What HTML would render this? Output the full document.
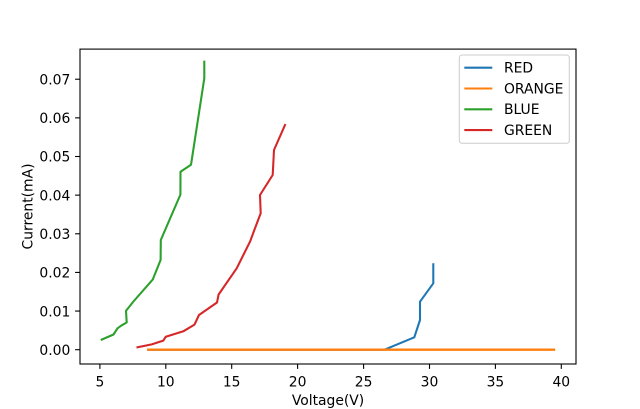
<!DOCTYPE html>
<html>
<head>
<meta charset="utf-8">
<style>
  html, body { margin: 0; padding: 0; background: #ffffff; }
  svg { display: block; }
  text { font-family: "DejaVu Sans", "Liberation Sans", sans-serif; font-size: 13.89px; fill: #000; }
</style>
</head>
<body>
<svg width="640" height="409" viewBox="0 0 640 409" xmlns="http://www.w3.org/2000/svg">
  <rect x="0" y="0" width="640" height="409" fill="#ffffff"/>

  <!-- data series -->
  <g fill="none" stroke-width="2.08" stroke-linejoin="round" stroke-linecap="square">
    <!-- RED (tab:blue) -->
    <polyline stroke="#1f77b4" points="148.3,349.7 384.5,349.7 414.3,337.3 420,320 420,301.7 433.3,283.3 433.3,264.3"/>
    <!-- ORANGE -->
    <polyline stroke="#ff7f0e" stroke-width="2.4" points="148.3,349.7 554,349.7"/>
    <!-- BLUE (tab:green) -->
    <polyline stroke="#2ca02c" points="101.7,339.6 113.5,334.5 117.5,328.3 121.7,325.3 126.7,322.5 126,310.9 133,302 152.7,279.6 160.6,260 160.8,240 180.4,194.6 180.5,171.7 191,164.8 204.3,78.3 204.3,61.7"/>
    <!-- GREEN (tab:red) -->
    <polyline stroke="#d62728" points="137.5,347.3 151.7,344.4 163.3,340.6 165.8,336.7 183.3,331.3 194.5,324.6 199,315 217,302.5 218.6,294.5 236.7,268.3 250,241.7 255,228.3 260.7,213.3 260,195 272.7,175 274,150 285,125"/>
  </g>

  <!-- axes frame -->
  <rect x="80" y="49.1" width="496" height="314.9" fill="none" stroke="#000" stroke-width="1.1"/>

  <!-- x ticks -->
  <g stroke="#000" stroke-width="1.1">
    <line x1="99.9" y1="364" x2="99.9" y2="368.9"/>
    <line x1="165.8" y1="364" x2="165.8" y2="368.9"/>
    <line x1="231.7" y1="364" x2="231.7" y2="368.9"/>
    <line x1="297.6" y1="364" x2="297.6" y2="368.9"/>
    <line x1="363.6" y1="364" x2="363.6" y2="368.9"/>
    <line x1="429.5" y1="364" x2="429.5" y2="368.9"/>
    <line x1="495.4" y1="364" x2="495.4" y2="368.9"/>
    <line x1="561.3" y1="364" x2="561.3" y2="368.9"/>
  </g>
  <g text-anchor="middle">
    <text x="99.9" y="386.3">5</text>
    <text x="165.8" y="386.3">10</text>
    <text x="231.7" y="386.3">15</text>
    <text x="297.6" y="386.3">20</text>
    <text x="363.6" y="386.3">25</text>
    <text x="429.5" y="386.3">30</text>
    <text x="495.4" y="386.3">35</text>
    <text x="561.3" y="386.3">40</text>
  </g>
  <text x="328" y="405" text-anchor="middle">Voltage(V)</text>

  <!-- y ticks -->
  <g stroke="#000" stroke-width="1.1">
    <line x1="75.1" y1="349.7" x2="80" y2="349.7"/>
    <line x1="75.1" y1="311.06" x2="80" y2="311.06"/>
    <line x1="75.1" y1="272.42" x2="80" y2="272.42"/>
    <line x1="75.1" y1="233.78" x2="80" y2="233.78"/>
    <line x1="75.1" y1="195.14" x2="80" y2="195.14"/>
    <line x1="75.1" y1="156.5" x2="80" y2="156.5"/>
    <line x1="75.1" y1="117.86" x2="80" y2="117.86"/>
    <line x1="75.1" y1="79.22" x2="80" y2="79.22"/>
  </g>
  <g text-anchor="end">
    <text x="70.3" y="354.9">0.00</text>
    <text x="70.3" y="316.3">0.01</text>
    <text x="70.3" y="277.6">0.02</text>
    <text x="70.3" y="239">0.03</text>
    <text x="70.3" y="200.3">0.04</text>
    <text x="70.3" y="161.7">0.05</text>
    <text x="70.3" y="123.1">0.06</text>
    <text x="70.3" y="84.4">0.07</text>
  </g>
  <text transform="translate(32.5,206.5) rotate(-90)" text-anchor="middle">Current(mA)</text>

  <!-- legend -->
  <rect x="459.3" y="55" width="110" height="88.3" rx="2.8" ry="2.8" fill="#ffffff" fill-opacity="0.8" stroke="#cccccc" stroke-width="1"/>
  <g stroke-width="2.08">
    <line x1="464.3" y1="67.7" x2="492.3" y2="67.7" stroke="#1f77b4"/>
    <line x1="464.3" y1="88.5" x2="492.3" y2="88.5" stroke="#ff7f0e"/>
    <line x1="464.3" y1="109.3" x2="492.3" y2="109.3" stroke="#2ca02c"/>
    <line x1="464.3" y1="130.1" x2="492.3" y2="130.1" stroke="#d62728"/>
  </g>
  <text x="504" y="72.6">RED</text>
  <text x="504" y="93.4">ORANGE</text>
  <text x="504" y="114.2">BLUE</text>
  <text x="504" y="135">GREEN</text>
</svg>
</body>
</html>
